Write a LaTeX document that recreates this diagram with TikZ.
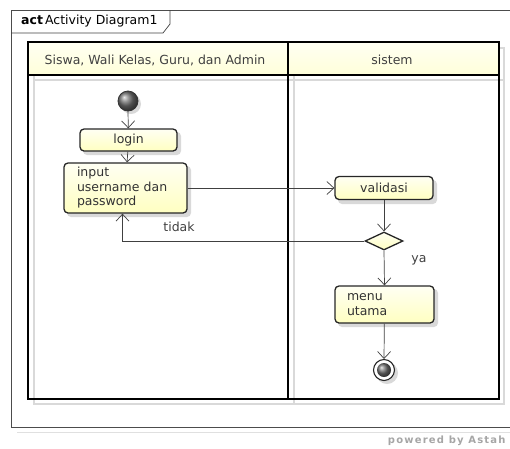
\documentclass[tikz,border=0pt]{standalone}
\usepackage{fontspec}
\setmainfont{DejaVu Sans}
\usetikzlibrary{arrows.meta,shapes.geometric}
\definecolor{actfill}{HTML}{FFFFD8}
\definecolor{headfill}{HTML}{FFFFE0}
\begin{document}
\begin{tikzpicture}[x=1pt,y=-1pt,font=\fontsize{12.5}{14.5}\selectfont,
    action/.style={draw=black!85, line width=1.3pt, rounded corners=4pt, top color=white!70!actfill, bottom color=actfill!70!yellow!60, text=black!80},
    actshadow/.style={fill=black!15, rounded corners=4pt},
    flow/.style={draw=black!75, line width=0.7pt, -{Straight Barb[length=7pt,width=13pt,line width=0.7pt]}},
    lane/.style={draw=black, line width=1.6pt},
    laneshadow/.style={draw=black!15, line width=1.4pt}]
  \useasboundingbox (0,0) rectangle (510,448);

  \draw[black!12, line width=1pt] (17,432) -- (510,432);
  \draw[black!70] (510,10) -- (11,10) -- (11,427) -- (510,427);
  \draw[black!75, line width=0.7pt] (11,33) -- (163,33) -- (170,24) -- (170,10);
  \node[anchor=west, inner sep=0] (title) at (21,21.5) {\textbf{act}\,Activity Diagram1};

  \draw[laneshadow] (34,48) rectangle (504,404);
  \draw[laneshadow] (294,48) -- (294,404);
  \draw[laneshadow] (34,80) -- (504,80);
  \fill[top color=white!60!headfill, bottom color=headfill!80!yellow!50] (28,42) rectangle (499,75);
  \draw[lane] (28,42) rectangle (499,399);
  \draw[lane] (28,75) -- (499,75);
  \draw[lane] (288,42) -- (288,399);
  \node[text=black!75] (actor) at (155,60) {Siswa, Wali Kelas, Guru, dan Admin};
  \node[text=black!75] (sys) at (392,60) {sistem};

  \fill[black!15] (131,104) circle[radius=10];
  \shade[ball color=black!55] (128,101) circle[radius=10];
  \draw[black!80, line width=0.8pt] (128,101) circle[radius=10];
  \coordinate (start) at (128,111);

  \fill[actshadow] (83,132) rectangle (181,155);
  \node[action, minimum width=97, minimum height=22] (login) at (128.5,140) {login};

  \fill[actshadow] (67,166) rectangle (191,217);
  \node[action, minimum width=123, minimum height=50, text width=97, inner xsep=13, align=left] (input) at (125.5,188) {input\\username dan\\password};

  \fill[actshadow] (338,180) rectangle (437,204);
  \node[action, minimum width=98, minimum height=23] (valid) at (384,188) {validasi};

  \node[diamond, draw=black!85, line width=1.3pt, top color=white!70!actfill, bottom color=actfill!70!yellow!60, minimum width=38, minimum height=18, inner sep=0] (cek) at (384,241) {};

  \fill[actshadow] (338,289) rectangle (438,327);
  \node[action, minimum width=99, minimum height=37, text width=75, inner xsep=12, align=left] (menu) at (384.5,304.5) {menu\\utama};

  \fill[black!15] (387,373) circle[radius=11];
  \fill[white] (384,370) circle[radius=11];
  \draw[black!85, line width=1.1pt] (384,370) circle[radius=10.5];
  \shade[ball color=black!55] (384,370) circle[radius=7];
  \coordinate (stop) at (384,359);

  \draw[flow] (start) -- (login);
  \draw[flow] (login) -- (input);
  \draw[flow] (input.east) -- (valid.west);
  \draw[flow] (valid) -- (cek.north);
  \draw[flow] (cek.west) -| ([xshift=-3]input.south);
  \draw[flow] (cek.south) -- (menu.north);
  \draw[flow] (menu) -- (stop);
  \node[text=black!75] (tidak) at (179,227) {tidak};
  \node[text=black!75] (ya) at (419,260) {ya};

  \node[anchor=east, text=black!35, font=\fontsize{10}{12}\selectfont\bfseries\addfontfeatures{LetterSpace=12}] (astah) at (509,441) {powered by Astah};
\end{tikzpicture}
\end{document}
